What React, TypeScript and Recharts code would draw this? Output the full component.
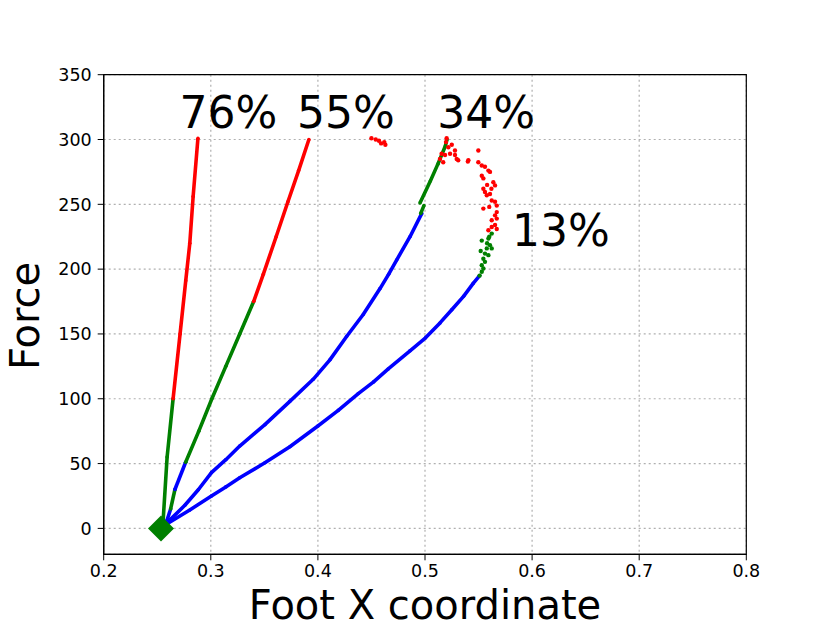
import React from "react";
import {
  ScatterChart,
  Scatter,
  XAxis,
  YAxis,
  CartesianGrid,
  ReferenceArea,
} from "recharts";

const BLUE = "#0000ff";
const GREEN = "#008000";
const RED = "#ff0000";

// 76% curve
const green76 = [
  { x: 0.2555, y: 6 }, { x: 0.2592, y: 55 }, { x: 0.2648, y: 100 },
];
const red76 = [
  { x: 0.2648, y: 100 }, { x: 0.2713, y: 150 }, { x: 0.2766, y: 191 },
  { x: 0.2804, y: 220 }, { x: 0.2835, y: 256 }, { x: 0.2880, y: 301 },
];

// 55% curve
const blue55a = [{ x: 0.259, y: 6 }, { x: 0.2625, y: 15 }];
const green55a = [{ x: 0.2625, y: 15 }, { x: 0.2665, y: 30 }];
const blue55b = [{ x: 0.2665, y: 30 }, { x: 0.2765, y: 51 }];
const green55 = [
  { x: 0.2765, y: 51 }, { x: 0.2888, y: 75 }, { x: 0.3010, y: 100 },
  { x: 0.3140, y: 125 }, { x: 0.3270, y: 150 }, { x: 0.3400, y: 175 },
];
const red55 = [
  { x: 0.3400, y: 175 }, { x: 0.3490, y: 196 }, { x: 0.3610, y: 225 },
  { x: 0.3720, y: 252 }, { x: 0.3820, y: 276 }, { x: 0.3916, y: 300 },
];
const red55Dots = [
  { x: 0.450, y: 301 }, { x: 0.454, y: 300 }, { x: 0.457, y: 299 },
  { x: 0.459, y: 297 }, { x: 0.462, y: 298 }, { x: 0.463, y: 296 },
];

// 34% curve
const blue34 = [
  { x: 0.2600, y: 5 }, { x: 0.2760, y: 18 }, { x: 0.2885, y: 30 },
  { x: 0.3006, y: 43 }, { x: 0.3140, y: 53 }, { x: 0.3270, y: 63.5 },
  { x: 0.3505, y: 80 }, { x: 0.3738, y: 98 }, { x: 0.3956, y: 115 },
  { x: 0.4112, y: 130 }, { x: 0.4268, y: 148 }, { x: 0.4423, y: 165 },
  { x: 0.4580, y: 185 }, { x: 0.4660, y: 196 }, { x: 0.4735, y: 207 },
  { x: 0.4860, y: 225 }, { x: 0.4970, y: 243 },
];
const green34a = [{ x: 0.4960, y: 243 }, { x: 0.4990, y: 249 }];
const green34 = [
  { x: 0.4953, y: 251 }, { x: 0.5050, y: 268 }, { x: 0.5120, y: 281 },
  { x: 0.5190, y: 295 }, { x: 0.5205, y: 300 },
];
const red34Dots = [
  { x: 0.5202, y: 301 }, { x: 0.5196, y: 298 }, { x: 0.5218, y: 294 },
  { x: 0.5155, y: 289 }, { x: 0.5187, y: 288 }, { x: 0.5234, y: 289 },
  { x: 0.5280, y: 291.5 }, { x: 0.5280, y: 288 }, { x: 0.5296, y: 285 },
  { x: 0.5310, y: 284 }, { x: 0.5170, y: 282.5 }, { x: 0.5400, y: 283 },
  { x: 0.5140, y: 285 }, { x: 0.5250, y: 296 },
];

// 13% curve
const blue13 = [
  { x: 0.2600, y: 4 }, { x: 0.2800, y: 14 }, { x: 0.3006, y: 25 },
  { x: 0.3140, y: 32 }, { x: 0.3270, y: 39 }, { x: 0.3505, y: 50.6 },
  { x: 0.3738, y: 63 }, { x: 0.4000, y: 79 }, { x: 0.4190, y: 91 },
  { x: 0.4377, y: 104 }, { x: 0.4520, y: 113 }, { x: 0.4657, y: 123 },
  { x: 0.4860, y: 137 }, { x: 0.5005, y: 147 }, { x: 0.5140, y: 158.5 },
  { x: 0.5250, y: 168.7 }, { x: 0.5360, y: 179 }, { x: 0.5450, y: 189 },
  { x: 0.5510, y: 195 },
];
const green13Dots = [
  { x: 0.5510, y: 195 }, { x: 0.5530, y: 198 }, { x: 0.5545, y: 200.5 },
  { x: 0.5530, y: 203 }, { x: 0.5560, y: 205.6 }, { x: 0.5545, y: 208 },
  { x: 0.5592, y: 210.8 }, { x: 0.5560, y: 212 }, { x: 0.5577, y: 216 },
  { x: 0.5623, y: 216 }, { x: 0.5607, y: 218.5 }, { x: 0.5530, y: 222 },
  { x: 0.5592, y: 223.6 }, { x: 0.5623, y: 227.4 }, { x: 0.5600, y: 225 },
  { x: 0.5520, y: 214 }, { x: 0.5580, y: 220 },
];
const red13Dots = [
  { x: 0.5498, y: 291.5 }, { x: 0.5405, y: 284 }, { x: 0.5498, y: 282.5 },
  { x: 0.5530, y: 280 }, { x: 0.5560, y: 279 }, { x: 0.5592, y: 276 },
  { x: 0.5607, y: 275 }, { x: 0.5530, y: 272 }, { x: 0.5545, y: 270 },
  { x: 0.5638, y: 267 }, { x: 0.5654, y: 264.6 }, { x: 0.5545, y: 262 },
  { x: 0.5560, y: 259.5 }, { x: 0.5577, y: 257 }, { x: 0.5607, y: 258 },
  { x: 0.5623, y: 253 }, { x: 0.5654, y: 252 }, { x: 0.5670, y: 249 },
  { x: 0.5545, y: 246.7 }, { x: 0.5670, y: 244 }, { x: 0.5654, y: 241.5 },
  { x: 0.5670, y: 239 }, { x: 0.5623, y: 237.7 }, { x: 0.5654, y: 234 },
  { x: 0.5670, y: 231 }, { x: 0.5592, y: 230 }, { x: 0.5623, y: 232.5 },
  { x: 0.5580, y: 265 }, { x: 0.5620, y: 262 }, { x: 0.5600, y: 248 },
];

const origin = [{ x: 0.2535, y: 0 }];

const pctLabels = [
  { x: 0.3165, y: 309, text: "76%" },
  { x: 0.4262, y: 309, text: "55%" },
  { x: 0.557, y: 309, text: "34%" },
  { x: 0.627, y: 218, text: "13%" },
];

const xTicks = [0.2, 0.3, 0.4, 0.5, 0.6, 0.7, 0.8];
const yTicks = [0, 50, 100, 150, 200, 250, 300, 350];

const FONT = "DejaVu Sans, sans-serif";

const dot = (color: string, r: number) => (p: any) =>
  <circle cx={p.cx} cy={p.cy} r={r} fill={color} />;

const diamond = (p: any) => {
  const s = 13;
  return (
    <polygon
      points={`${p.cx},${p.cy - s} ${p.cx + s},${p.cy} ${p.cx},${p.cy + s} ${p.cx - s},${p.cy}`}
      fill={GREEN}
    />
  );
};

const pctText = (p: any) => (
  <text x={p.cx} y={p.cy} textAnchor="middle" fontFamily={FONT} fontSize={44} fill="#000">
    {p.payload.text}
  </text>
);

const lineSeg = (data: any[], color: string, key: string) => (
  <Scatter
    key={key}
    data={data}
    line={{ stroke: color, strokeWidth: 3.6, strokeLinejoin: "round" }}
    lineType="joint"
    shape={dot(color, 1.8)}
    isAnimationActive={false}
  />
);

const dotSeg = (data: any[], color: string, key: string) => (
  <Scatter key={key} data={data} shape={dot(color, 2.2)} isAnimationActive={false} />
);

export default function App() {
  const tickStyle = { fontSize: 17.5, fill: "#000", fontFamily: FONT };
  return (
    <div style={{ position: "absolute", left: 0, top: 0, background: "#fff" }}>
      <ScatterChart
        width={830}
        height={623}
        margin={{ top: 74.7, right: 83.7, left: 0, bottom: 0 }}
      >
        <CartesianGrid stroke="#b0b0b0" strokeDasharray="2 3" strokeWidth={1.2} />
        <XAxis
          type="number"
          dataKey="x"
          domain={[0.2, 0.8]}
          ticks={xTicks}
          tickFormatter={(v: number) => v.toFixed(1)}
          height={68.7}
          tick={tickStyle}
          tickSize={6}
          tickMargin={4}
          tickLine={{ stroke: "#000" }}
          axisLine={{ stroke: "#000", strokeWidth: 1.2 }}
          allowDataOverflow
          label={{
            content: () => (
              <text x={425} y={619} textAnchor="middle" fontFamily={FONT} fontSize={40} fill="#000">
                Foot X coordinate
              </text>
            ),
          }}
        />
        <YAxis
          type="number"
          dataKey="y"
          domain={[-20, 350]}
          ticks={yTicks}
          width={103.7}
          tick={tickStyle}
          tickSize={6}
          tickMargin={6}
          tickLine={{ stroke: "#000" }}
          axisLine={{ stroke: "#000", strokeWidth: 1.2 }}
          allowDataOverflow
          label={{
            content: () => (
              <text
                x={39}
                y={316}
                transform="rotate(-90 39 316)"
                textAnchor="middle"
                fontFamily={FONT}
                fontSize={40}
                fill="#000"
              >
                Force
              </text>
            ),
          }}
        />
        <ReferenceArea x1={0.2} x2={0.8} y1={-20} y2={350} fill="none" stroke="#000" strokeWidth={1.2} />
        {lineSeg(green76, GREEN, "g76")}
        {lineSeg(red76, RED, "r76")}
        {lineSeg(blue55a, BLUE, "b55a")}
        {lineSeg(green55a, GREEN, "g55a")}
        {lineSeg(blue55b, BLUE, "b55b")}
        {lineSeg(green55, GREEN, "g55")}
        {lineSeg(red55, RED, "r55")}
        {dotSeg(red55Dots, RED, "rd55")}
        {lineSeg(blue34, BLUE, "b34")}
        {lineSeg(green34a, GREEN, "g34a")}
        {lineSeg(green34, GREEN, "g34")}
        {dotSeg(red34Dots, RED, "rd34")}
        {lineSeg(blue13, BLUE, "b13")}
        {dotSeg(green13Dots, GREEN, "gd13")}
        {dotSeg(red13Dots, RED, "rd13")}
        <Scatter data={origin} shape={diamond} isAnimationActive={false} />
        <Scatter data={pctLabels} shape={pctText} isAnimationActive={false} />
      </ScatterChart>
    </div>
  );
}
